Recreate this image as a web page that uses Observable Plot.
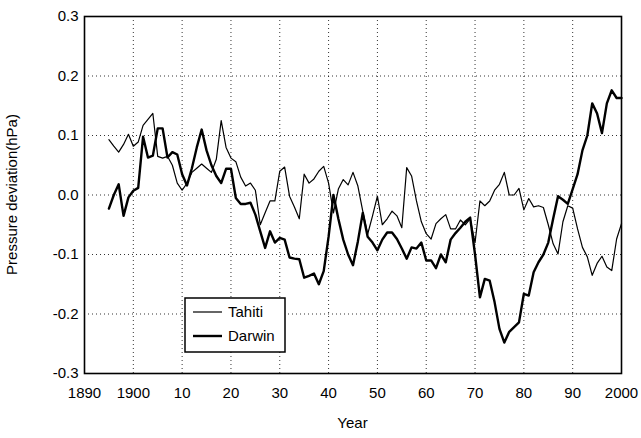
<!DOCTYPE html>
<html>
<head>
<meta charset="utf-8">
<script src="https://cdn.jsdelivr.net/npm/d3@7"></script>
<script src="https://cdn.jsdelivr.net/npm/@observablehq/plot@0.6"></script>
<style>
  html, body { margin: 0; padding: 0; background: #fff; }
  #chart { width: 641px; height: 438px; }
  svg { font-family: "Liberation Sans", Arial, sans-serif; }
</style>
</head>
<body>
<div id="chart"></div>
<script>
// Years of the annual series (1895 .. 2000)
const startYear = 1895;
const tahiti = [
  0.093, 0.082, 0.072, 0.085, 0.102, 0.082, 0.089, 0.117, 0.127, 0.137,
  0.065, 0.062, 0.065, 0.050, 0.020, 0.008, 0.020, 0.038, 0.045, 0.052,
  0.045, 0.038, 0.060, 0.125, 0.080, 0.062, 0.056, 0.030, 0.015, 0.020,
  0.008, -0.050, -0.030, -0.010, -0.010, 0.040, 0.047, -0.002, -0.020, -0.040,
  0.035, 0.020, 0.027, 0.040, 0.048, 0.020, -0.030, 0.010, 0.026, 0.017,
  0.038, 0.015, -0.027, -0.066, -0.035, -0.002, -0.050, -0.040, -0.027, -0.035,
  -0.055, 0.046, 0.032, -0.010, -0.045, -0.065, -0.074, -0.048, -0.040, -0.033,
  -0.057, -0.057, -0.042, -0.050, -0.040, -0.080, -0.010, -0.018, -0.010, 0.008,
  0.018, 0.038, 0.000, 0.000, 0.011, -0.025, -0.006, -0.020, -0.018, -0.021,
  -0.050, -0.082, -0.099, -0.045, -0.018, -0.022, -0.057, -0.088, -0.104, -0.135,
  -0.115, -0.103, -0.121, -0.127, -0.074, -0.048
];
const darwin = [
  -0.023, 0.000, 0.018, -0.035, -0.004, 0.007, 0.012, 0.098, 0.063, 0.066,
  0.112, 0.112, 0.063, 0.072, 0.068, 0.035, 0.016, 0.045, 0.080, 0.110,
  0.075, 0.050, 0.032, 0.020, 0.044, 0.044, -0.005, -0.015, -0.015, -0.013,
  -0.033, -0.061, -0.089, -0.061, -0.080, -0.072, -0.075, -0.105, -0.107, -0.108,
  -0.139, -0.136, -0.132, -0.150, -0.128, -0.070, 0.000, -0.040, -0.075, -0.100,
  -0.118, -0.078, -0.030, -0.070, -0.080, -0.093, -0.075, -0.063, -0.063, -0.074,
  -0.090, -0.107, -0.088, -0.090, -0.080, -0.110, -0.110, -0.123, -0.100, -0.113,
  -0.075, -0.064, -0.055, -0.045, -0.038, -0.100, -0.172, -0.141, -0.144, -0.180,
  -0.225, -0.248, -0.230, -0.222, -0.214, -0.166, -0.169, -0.130, -0.113, -0.100,
  -0.080, -0.040, -0.002, -0.008, -0.015, 0.010, 0.035, 0.075, 0.100, 0.154,
  0.137, 0.104, 0.154, 0.176, 0.163, 0.163
];
const xTicks = [1890, 1900, 1910, 1920, 1930, 1940, 1950, 1960, 1970, 1980, 1990, 2000];
const xTickLabels = ["1890", "1900", "10", "20", "30", "40", "50", "60", "70", "80", "90", "2000"];
const yTicks = [-0.3, -0.2, -0.1, 0.0, 0.1, 0.2, 0.3];
const yTickLabels = ["-0.3", "-0.2", "-0.1", "0.0", "0.1", "0.2", "0.3"];
const seriesNames = ["Tahiti", "Darwin"];
const xTitle = "Year";
const yTitle = "Pressure deviation(hPa)";

const years = tahiti.map((_, i) => startYear + i);
const rowsT = years.map((year, i) => ({year, value: tahiti[i], series: "Tahiti"}));
const rowsD = years.map((year, i) => ({year, value: darwin[i], series: "Darwin"}));

const FONT = '"Liberation Sans", Arial, sans-serif';
const W = 641, H = 438;
const mL = 84, mR = 20, mT = 16, mB = 65;
const chart = Plot.plot({
  width: W,
  height: H,
  marginLeft: mL,
  marginRight: mR,
  marginTop: mT,
  marginBottom: mB,
  style: {fontFamily: FONT, fontSize: "15px", color: "#000", background: "#fff"},
  x: {domain: [1890, 2000]},
  y: {domain: [-0.3, 0.3]},
  marks: [
    Plot.gridX(xTicks, {stroke: "#000", strokeOpacity: 0.8, strokeDasharray: "1,3", strokeWidth: 1}),
    Plot.gridY(yTicks, {stroke: "#000", strokeOpacity: 0.8, strokeDasharray: "1,3", strokeWidth: 1}),
    Plot.axisX({
      ticks: xTicks, tickSize: 0, tickPadding: 14,
      tickFormat: d => xTickLabels[xTicks.indexOf(d)],
      label: null, fontSize: 15
    }),
    Plot.axisY({
      ticks: yTicks, tickSize: 0, tickPadding: 6,
      tickFormat: d => yTickLabels[yTicks.findIndex(t => Math.abs(t - d) < 1e-9)],
      label: null, fontSize: 15
    }),
    Plot.line(rowsT, {x: "year", y: "value", stroke: "#000", strokeWidth: 1.2, strokeLinejoin: "round"}),
    Plot.line(rowsD, {x: "year", y: "value", stroke: "#000", strokeWidth: 2.4, strokeLinejoin: "round"}),
    Plot.frame({stroke: "#000", strokeWidth: 1.6})
  ]
});
document.getElementById("chart").appendChild(chart);

const svg = d3.select(chart);
// Axis titles
const cx = mL + (W - mL - mR) / 2;
const cy = mT + (H - mT - mB) / 2;
svg.append("text").attr("x", cx).attr("y", 428).attr("text-anchor", "middle")
  .attr("font-size", 15).attr("fill", "#000").text(xTitle);
svg.append("text").attr("transform", `translate(17,${cy}) rotate(-90)`).attr("text-anchor", "middle")
  .attr("font-size", 15).attr("fill", "#000").text(yTitle);

// Legend box (inside the plot, lower left)
const lg = svg.append("g").attr("class", "legend");
lg.append("rect").attr("x", 185).attr("y", 298).attr("width", 100).attr("height", 54)
  .attr("fill", "#fff").attr("stroke", "#000").attr("stroke-width", 1.5);
const widths = [1.2, 2.4];
seriesNames.forEach((name, i) => {
  const yy = 312 + i * 24;
  lg.append("line").attr("x1", 193).attr("x2", 222).attr("y1", yy).attr("y2", yy)
    .attr("stroke", "#000").attr("stroke-width", widths[i]);
  lg.append("text").attr("x", 228).attr("y", yy).attr("dy", "0.35em")
    .attr("text-anchor", "start")
    .attr("font-size", 15).attr("fill", "#000").text(name);
});
</script>
</body>
</html>
